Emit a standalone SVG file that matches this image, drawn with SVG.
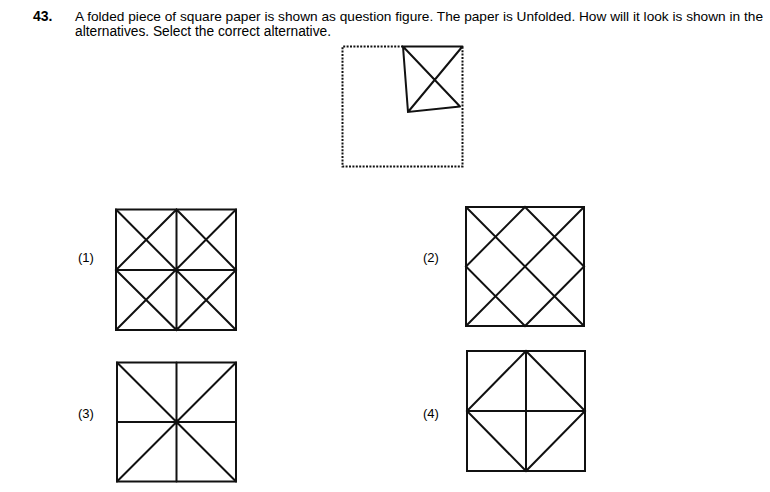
<svg xmlns="http://www.w3.org/2000/svg" width="770" height="492" viewBox="0 0 770 492">
<style>
text{font-family:"Liberation Sans",Arial,sans-serif;fill:#000}
.q{font-size:14px}
.lbl{font-size:13px}
.ln{stroke:#111;stroke-width:2;fill:none;stroke-linecap:round}
.dot{stroke:#111;stroke-width:2;fill:none;stroke-dasharray:2 1.4}
</style>
<rect width="770" height="492" fill="#fff"/>
<g id="question">
<text class="q" x="33" y="21" font-weight="bold">43.</text>
<text x="75" y="21" font-size="12.6" textLength="688" lengthAdjust="spacingAndGlyphs">A folded piece of square paper is shown as question figure. The paper is Unfolded. How will it look is shown in the</text>
<text class="q" x="75" y="36" textLength="256" lengthAdjust="spacingAndGlyphs">alternatives. Select the correct alternative.</text>
</g>
<g id="question-figure">
<path class="dot" d="M403,46.5 L342.5,46.5 L342.5,166.5 L462.5,166.5 L462.5,46.5"/>
<path class="ln" d="M462.5,46.5 L403,46.5 L408,112 L460,106.5 M403,46.5 L460,106.5 M462,47 L408,112"/>
</g>
<g id="option-1">
<text class="lbl" x="78" y="262">(1)</text>
<rect class="ln" x="116" y="209.5" width="120" height="120.5"/>
<path class="ln" d="M176.5,209.5 V330 M116,270 H236 M116,209.5 L236,330 M236,209.5 L116,330 M176.5,209.5 L236,270 L176.5,330 L116,270 Z"/>
</g>
<g id="option-2">
<text class="lbl" x="423" y="262">(2)</text>
<rect class="ln" x="466" y="207" width="118" height="119"/>
<path class="ln" d="M466,207 L584,326 M584,207 L466,326 M525,207 L584,266.5 L525,326 L466,266.5 Z"/>
</g>
<g id="option-3">
<text class="lbl" x="78" y="418">(3)</text>
<rect class="ln" x="117" y="362.5" width="119" height="119"/>
<path class="ln" d="M176.5,362.5 V481.5 M117,422 H236 M117,362.5 L236,481.5 M236,362.5 L117,481.5"/>
</g>
<g id="option-4">
<text class="lbl" x="423" y="418">(4)</text>
<rect class="ln" x="467" y="351" width="118" height="120"/>
<path class="ln" d="M526,351 V471 M467,411 H585 M526,351 L585,411 L526,471 L467,411 Z"/>
</g>
</svg>
